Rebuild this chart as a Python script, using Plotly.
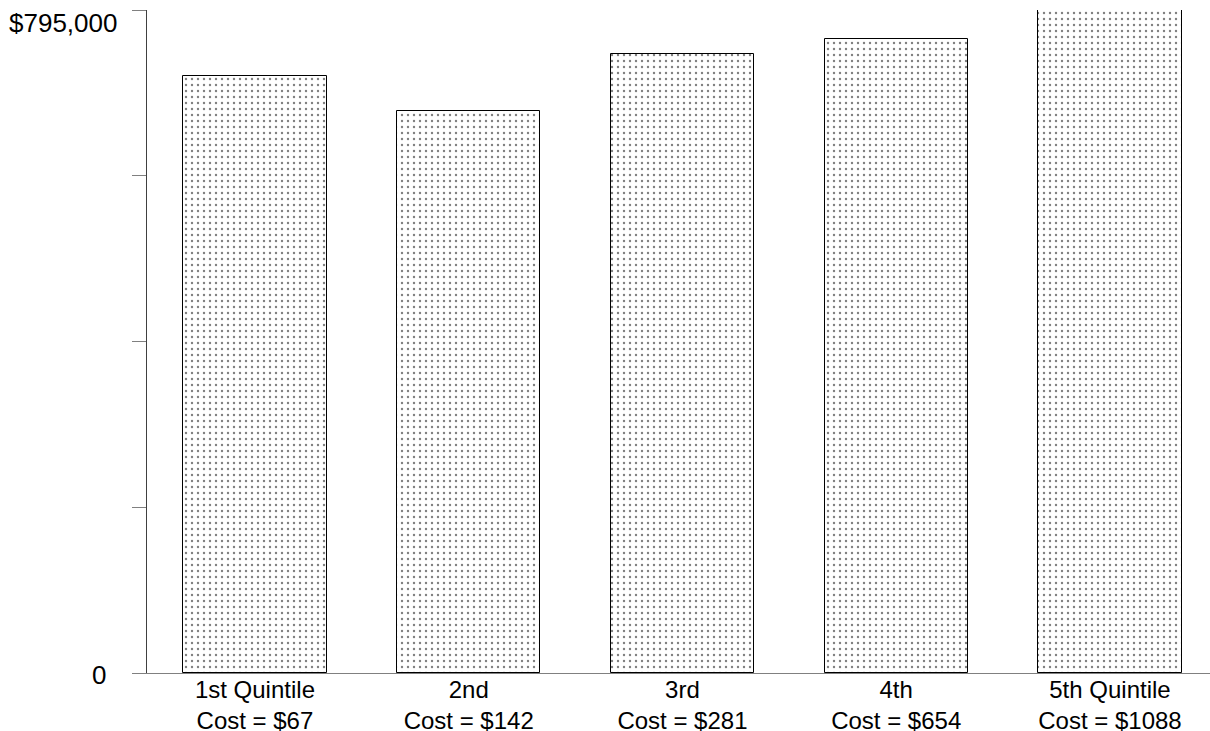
import plotly.graph_objects as go

categories = ["1st Quintile<br>Cost = $67", "2nd<br>Cost = $142", "3rd<br>Cost = $281",
              "4th<br>Cost = $654", "5th Quintile<br>Cost = $1088"]
values = [716000, 674000, 742000, 760000, 795000]
y_tick_vals = [0, 198750, 397500, 596250, 795000]
y_labels = {0: "0", 795000: "$795,000"}

FONT = "Liberation Sans, Arial, sans-serif"
xpos = list(range(len(categories)))

fig = go.Figure()
fig.add_trace(go.Bar(
    x=xpos, y=values, width=0.67,
    marker=dict(color="white", line=dict(color="black", width=1),
                pattern=dict(shape=".", size=6, solidity=0.12, fgcolor="#000000", bgcolor="white")),
    cliponaxis=False, hoverinfo="skip",
))

fig.update_layout(
    width=1210, height=731,
    margin=dict(l=147, r=0, t=10, b=58),
    paper_bgcolor="white", plot_bgcolor="white",
    showlegend=False,
    font=dict(family=FONT, size=25, color="black"),
    bargap=0,
)
fig.update_xaxes(
    range=[-0.505, 4.468], tickvals=xpos, ticktext=categories,
    showline=True, linecolor="#808080", linewidth=1, ticks="", showgrid=False,
    zeroline=False, automargin=False, tickfont=dict(size=24, family=FONT),
    ticklabelstandoff=-5,
)
fig.update_yaxes(
    range=[0, 795000], tickvals=y_tick_vals, ticktext=[""] * len(y_tick_vals),
    showline=True, linecolor="#404040", linewidth=1, ticks="outside", ticklen=14,
    tickcolor="#808080", tickwidth=1, showgrid=False, zeroline=False, automargin=False,
)
fig.add_annotation(xref="paper", yref="y", x=0, y=795000, text=y_labels[795000],
                   showarrow=False, xanchor="right", yanchor="top", xshift=-28, yshift=4,
                   font=dict(size=26, family=FONT))
fig.add_annotation(xref="paper", yref="y", x=0, y=0, text=y_labels[0],
                   showarrow=False, xanchor="right", yanchor="middle", xshift=-39, yshift=-2,
                   font=dict(size=26, family=FONT))

fig.write_html("out.html", config={"displayModeBar": False},
               post_script="document.body.style.margin='0';document.body.style.padding='0';")
